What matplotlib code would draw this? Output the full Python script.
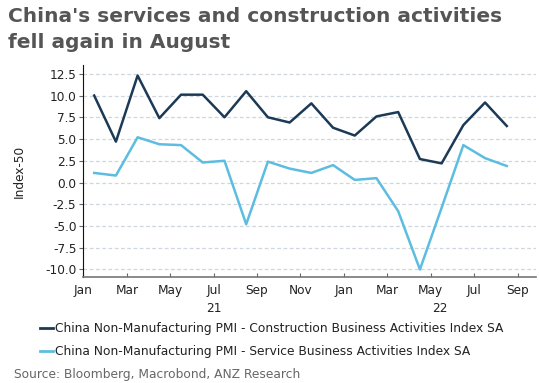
import matplotlib
matplotlib.use('Agg')
import matplotlib.pyplot as plt
from matplotlib.lines import Line2D

# monthly readings, Jan 2021 - Aug 2022 (PMI minus 50)
months = ['Jan', 'Feb', 'Mar', 'Apr', 'May', 'Jun', 'Jul', 'Aug', 'Sep', 'Oct', 'Nov', 'Dec',
          'Jan', 'Feb', 'Mar', 'Apr', 'May', 'Jun', 'Jul', 'Aug']
construction = [10.0, 4.7, 12.3, 7.4, 10.1, 10.1, 7.5, 10.5, 7.5, 6.9, 9.1, 6.3,
                5.4, 7.6, 8.1, 2.7, 2.2, 6.6, 9.2, 6.5]
services = [1.1, 0.8, 5.2, 4.4, 4.3, 2.3, 2.5, -4.8, 2.4, 1.6, 1.1, 2.0,
            0.3, 0.5, -3.3, -10.0, -2.9, 4.3, 2.8, 1.9]
tick_labels = ['Jan', 'Mar', 'May', 'Jul', 'Sep', 'Nov', 'Jan', 'Mar', 'May', 'Jul', 'Sep']
years = ['21', '22']

DARK = '#1c3a56'
LIGHT = '#5cbde0'
GREY = '#555555'

fig = plt.figure(figsize=(5.39, 3.83), dpi=100)
ax = fig.add_axes([0.1546, 0.276, 0.84, 0.554])

x = [i + 0.5 for i in range(len(months))]
ax.plot(x, construction, color=DARK, lw=1.8)
ax.plot(x, services, color=LIGHT, lw=1.8)

ax.set_xlim(0, 20.85)
ax.set_ylim(-10.9, 13.5)
ax.set_yticks([12.5 - 2.5 * k for k in range(10)])
ax.set_yticklabels(['%.1f' % (12.5 - 2.5 * k) for k in range(10)], fontsize=8.7, color='#222222')
ax.set_xticks(range(0, 21, 2))
ax.set_xticklabels(tick_labels, fontsize=8.7, color='#222222')
ax.tick_params(axis='x', direction='in', length=3, color='#666666', pad=5)
ax.tick_params(axis='y', direction='out', length=3, color='#666666', pad=2)

ax.grid(axis='y', color='#cfd6dd', lw=0.9, ls=(0, (3, 2)))
ax.set_axisbelow(True)
for s in ['top', 'right']:
    ax.spines[s].set_visible(False)
ax.spines['left'].set_color('#111111')
ax.spines['bottom'].set_color('#777777')
ax.spines['bottom'].set_linewidth(1.2)

# year labels centred on the visible part of each year
ax.text(6, -0.145, years[0], transform=ax.get_xaxis_transform(), ha='center', va='center',
        fontsize=8.7, color='#222222')
ax.text((12 + 20.85) / 2, -0.145, years[1], transform=ax.get_xaxis_transform(), ha='center',
        va='center', fontsize=8.7, color='#222222')

ax.set_ylabel('Index-50', fontsize=8.7, color='#222222', labelpad=14)

fig.text(0.015, 0.9426, "China's services and construction activities", ha='left',
         va='baseline', fontsize=14.5, fontweight='bold', color=GREY)
fig.text(0.015, 0.8747, "fell again in August", ha='left',
         va='baseline', fontsize=14.5, fontweight='bold', color=GREY)

handles = [Line2D([], [], color=DARK, lw=2), Line2D([], [], color=LIGHT, lw=2)]
fig.legend(handles, ['China Non-Manufacturing PMI - Construction Business Activities Index SA',
                     'China Non-Manufacturing PMI - Service Business Activities Index SA'],
           loc='upper left', bbox_to_anchor=(0.065, 0.172), frameon=False, fontsize=8.85,
           handlelength=1.1, handletextpad=0.15, labelspacing=0.8, borderaxespad=0,
           labelcolor='#222222')

fig.text(0.026, 0.005, 'Source: Bloomberg, Macrobond, ANZ Research', ha='left', va='bottom',
         fontsize=8.85, color='#666666')

fig.savefig('out.png', dpi=100)
